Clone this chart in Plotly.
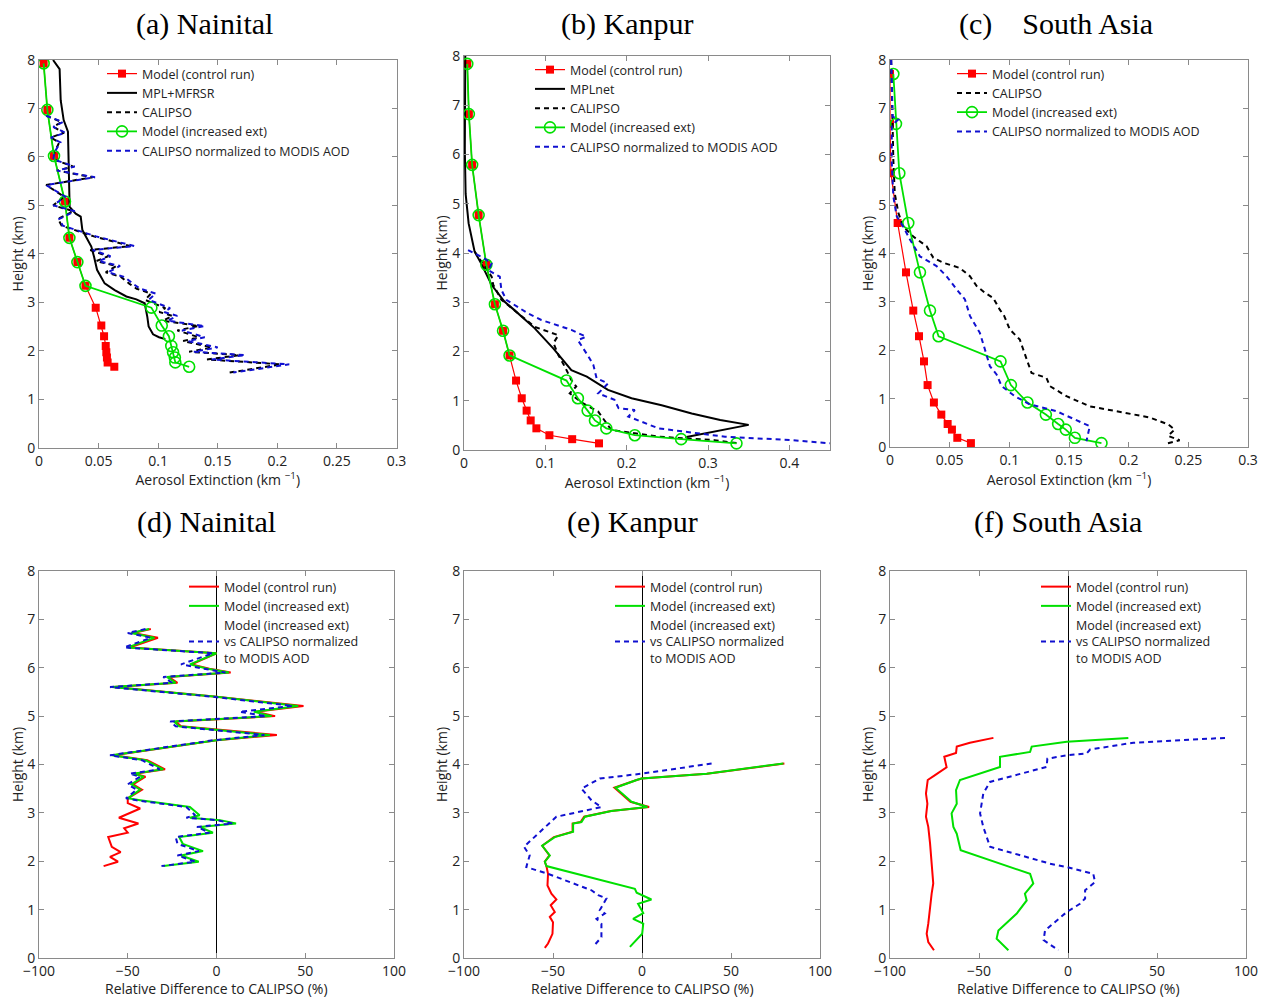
import plotly.graph_objects as go

# The page places the plot 8 px in from the top-left corner (default body margin),
# so the figure is laid out in window pixels minus that offset.
WIN_W, WIN_H = 1272, 999
OFF = 8
W, H = WIN_W - OFF, WIN_H - OFF

# ---------------- Panel (a) Nainital : extinction profiles ----------------
a_height = [7.93, 6.97, 6.02, 5.08, 4.33, 3.83, 3.34, 2.89, 2.52, 2.30, 2.10, 1.97, 1.86, 1.76, 1.67]
a_ctrl = [0.0039, 0.007, 0.0126, 0.0218, 0.0255, 0.0322, 0.039, 0.0476, 0.0523, 0.0546, 0.056, 0.0565, 0.057, 0.0576, 0.0632]
a_inc = [0.0039, 0.007, 0.0126, 0.0218, 0.0255, 0.0322, 0.039, 0.0943, 0.103, 0.109, 0.111, 0.1125, 0.114, 0.1144, 0.126]
a_mpl_h = [8.0, 7.81, 7.17, 6.76, 6.52, 5.94, 4.97, 4.83, 4.77, 4.49, 4.32, 4.15, 3.94, 3.67, 3.39, 3.25, 3.12,
           3.06, 2.98, 2.84, 2.70, 2.50, 2.34, 2.28, 2.24]
a_mpl = [0.0118, 0.0173, 0.0182, 0.0207, 0.0243, 0.0249, 0.0257, 0.0308, 0.035, 0.0364, 0.0403, 0.0439, 0.0462,
         0.0487, 0.0551, 0.0635, 0.0733, 0.0817, 0.0887, 0.0901, 0.0909, 0.092, 0.0957, 0.1007, 0.106]
a_cal_h = [6.85, 6.72, 6.62, 6.50, 6.40, 6.30, 6.10, 5.95, 5.80, 5.72, 5.58, 5.42, 5.18, 5.10, 5.00, 4.88, 4.72,
           4.58, 4.36, 4.16, 4.08, 3.95, 3.85, 3.75, 3.62, 3.52, 3.38, 3.28, 3.18, 3.05, 2.88, 2.80, 2.72, 2.62,
           2.51, 2.42, 2.28, 2.20, 2.07, 1.98, 1.91, 1.82, 1.72, 1.55]
a_cal = [0.006, 0.019, 0.012, 0.021, 0.010, 0.017, 0.013, 0.012, 0.029, 0.015, 0.045, 0.006, 0.021, 0.017, 0.012,
         0.029, 0.016, 0.019, 0.046, 0.077, 0.043, 0.058, 0.048, 0.065, 0.056, 0.069, 0.076, 0.082, 0.094, 0.089,
         0.106, 0.101, 0.112, 0.104, 0.134, 0.116, 0.134, 0.121, 0.145, 0.126, 0.168, 0.141, 0.203, 0.160]
a_caln = [0.006, 0.020, 0.012, 0.022, 0.010, 0.018, 0.013, 0.012, 0.030, 0.015, 0.047, 0.006, 0.022, 0.018, 0.012,
          0.030, 0.017, 0.020, 0.048, 0.080, 0.045, 0.060, 0.050, 0.068, 0.058, 0.072, 0.079, 0.085, 0.098, 0.092,
          0.110, 0.105, 0.116, 0.108, 0.139, 0.120, 0.139, 0.125, 0.150, 0.130, 0.173, 0.145, 0.210, 0.163]

# ---------------- Panel (b) Kanpur ----------------
b_height = [7.84, 6.82, 5.79, 4.77, 3.76, 2.96, 2.42, 1.92, 1.41, 1.05, 0.80, 0.60, 0.44, 0.30, 0.22, 0.135]
b_ctrl = [0.004, 0.006, 0.010, 0.018, 0.0275, 0.038, 0.048, 0.056, 0.064, 0.071, 0.077, 0.082, 0.089, 0.105, 0.133, 0.166]
b_inc = [0.004, 0.006, 0.010, 0.018, 0.0275, 0.038, 0.048, 0.056, 0.126, 0.140, 0.152, 0.161, 0.175, 0.21, 0.267, 0.335]
b_mpl_h = [8.05, 6.1, 5.2, 4.6, 4.03, 3.79, 3.35, 3.01, 2.84, 2.47, 2.06, 1.62, 1.49, 1.22, 1.05, 0.91, 0.74,
           0.61, 0.51, 0.37, 0.26]
b_mpl = [0.0016, 0.001, 0.002, 0.0057, 0.013, 0.021, 0.034, 0.05, 0.062, 0.087, 0.11, 0.132, 0.151, 0.177,
         0.206, 0.243, 0.28, 0.315, 0.35, 0.308, 0.272]
b_cal_h = [4.03, 3.52, 3.35, 3.05, 2.50, 2.33, 2.17, 1.93, 1.69, 1.42, 1.29, 1.15, 0.95, 0.78, 0.41, 0.27, 0.20, 0.14]
b_cal = [0.013, 0.034, 0.036, 0.046, 0.087, 0.116, 0.110, 0.116, 0.124, 0.132, 0.138, 0.130, 0.146, 0.165,
         0.181, 0.239, 0.308, 0.335]
b_caln_h = [4.06, 3.89, 3.79, 3.65, 3.52, 3.25, 3.05, 2.77, 2.64, 2.44, 2.30, 2.23, 1.90, 1.73, 1.46, 1.35, 1.15,
            1.02, 0.85, 0.81, 0.68, 0.44, 0.27, 0.20, 0.135]
b_caln = [0.005, 0.025, 0.034, 0.030, 0.044, 0.046, 0.052, 0.079, 0.095, 0.132, 0.150, 0.140, 0.153, 0.159,
          0.163, 0.177, 0.165, 0.185, 0.190, 0.210, 0.202, 0.239, 0.321, 0.403, 0.45]

# ---------------- Panel (c) South Asia ----------------
c_height = [7.71, 6.68, 5.66, 4.63, 3.61, 2.82, 2.29, 1.77, 1.28, 0.92, 0.67, 0.475, 0.36, 0.19, 0.08]
c_ctrl = [0.0, 0.0, 0.0008, 0.0064, 0.0134, 0.0195, 0.0243, 0.0285, 0.0315, 0.0368, 0.043, 0.0483, 0.0519, 0.0564, 0.0678]
c_inc = [0.0028, 0.005, 0.0078, 0.0153, 0.0251, 0.0335, 0.0407, 0.0926, 0.1013, 0.1152, 0.1306, 0.1409, 0.1473, 0.1549, 0.1772]
c_cal_h = [8.0, 6.8, 5.93, 5.24, 4.84, 4.56, 4.35, 4.15, 3.91, 3.81, 3.70, 3.53, 3.33, 3.19, 3.08, 2.84, 2.71, 2.43,
           2.22, 2.02, 1.74, 1.53, 1.43, 1.26, 1.05, 0.84, 0.74, 0.61, 0.47, 0.36, 0.23, 0.14, 0.07]
c_cal = [0.001, 0.002, 0.0028, 0.004, 0.007, 0.011, 0.0195, 0.0307, 0.0363, 0.0446, 0.0586, 0.067, 0.0725, 0.0795,
         0.0865, 0.092, 0.0957, 0.1004, 0.1088, 0.1116, 0.1158, 0.1186, 0.1311, 0.1339, 0.1479, 0.1674, 0.1897,
         0.2176, 0.233, 0.2385, 0.233, 0.2427, 0.2316]
c_caln_h = [8.0, 6.83, 6.77, 6.65, 5.93, 5.18, 4.77, 4.56, 4.29, 3.94, 3.74, 3.53, 3.26, 3.05, 2.71, 2.36, 2.02, 1.67,
            1.50, 1.26, 1.05, 0.88, 0.74, 0.43, 0.12]
c_caln = [0.001, 0.0022, 0.007, 0.0015, 0.0014, 0.0028, 0.0056, 0.011, 0.0167, 0.0251, 0.039, 0.0474, 0.0558,
          0.0628, 0.067, 0.0753, 0.0795, 0.0837, 0.0893, 0.0935, 0.1046, 0.1172, 0.1395, 0.1674, 0.1646]

# ---------------- Panel (d) Nainital : relative difference ----------------
d_ctrl_h = [6.80, 6.72, 6.62, 6.42, 6.30, 6.07, 5.98, 5.90, 5.81, 5.69, 5.60, 5.40, 5.21, 5.09, 5.00, 4.94, 4.89,
            4.79, 4.61, 4.50, 4.19, 4.09, 3.90, 3.81, 3.75, 3.59, 3.48, 3.30, 3.20, 3.09, 2.90, 2.78, 2.68, 2.59,
            2.50, 2.30, 2.19, 2.09, 1.99, 1.90]
d_ctrl = [-37, -47, -33, -49, 0, -14, -4, 8, -27, -22, -58, 0, 49, 22, 33, 0, -23, -20, 34, 0, -58, -39, -29,
          -46, -40, -47, -42, -50, -50, -43, -55, -44, -52, -50, -61, -59, -54, -60, -55.5, -63.6]
d_inc_h = [6.80, 6.72, 6.62, 6.42, 6.30, 6.07, 5.98, 5.90, 5.81, 5.69, 5.60, 5.40, 5.21, 5.09, 5.00, 4.94, 4.89,
           4.79, 4.61, 4.50, 4.19, 4.09, 3.90, 3.81, 3.75, 3.59, 3.48, 3.30, 3.26, 3.12, 2.95, 2.90, 2.85, 2.78,
           2.71, 2.59, 2.50, 2.36, 2.21, 2.12, 1.99, 1.90]
d_inc = [-38, -48, -35, -50, 0, -15, -5, 7, -28, -23, -59, 0, 46, 21, 31, 0, -24, -21, 30, 0, -59, -40, -30,
         -47, -41, -48, -43, -50, -43, -15, -9.5, -15, 2, 11, -9.5, -2, -21, -19, -7.6, -20, -10, -30]
d_caln_h = [6.80, 6.72, 6.62, 6.42, 6.30, 6.07, 5.98, 5.90, 5.81, 5.69, 5.60, 5.40, 5.21, 5.09, 5.00, 4.94, 4.89,
            4.79, 4.61, 4.50, 4.19, 4.09, 3.90, 3.81, 3.75, 3.59, 3.48, 3.30, 3.26, 3.12, 2.95, 2.90, 2.85, 2.78,
            2.71, 2.59, 2.50, 2.36, 2.21, 2.12, 1.99, 1.90]
d_caln = [-40, -50, -37, -52, -2, -20, -7, 5, -30, -25, -60, -2, 43, 13, 28, -2, -26, -23, 27, -2, -60, -42,
          -32, -49, -43, -50, -45, -51, -45, -17, -12, -17, 0, 9, -11, -4, -23, -22, -10, -22, -12, -31]

# ---------------- Panel (e) Kanpur : relative difference ----------------
e_ctrl_h = [4.02, 3.81, 3.71, 3.68, 3.52, 3.23, 3.12, 3.04, 2.92, 2.81, 2.78, 2.61, 2.50, 2.32, 2.12, 1.99, 1.90,
            1.74, 1.50, 1.33, 1.21, 1.09, 0.95, 0.85, 0.74, 0.50, 0.30, 0.21]
e_ctrl = [80, 36.5, -0.3, -3, -15.5, -6.5, 4, -17.5, -32.5, -34.5, -39, -39, -49.5, -56, -52, -54.6, -53.7,
          -52.8, -53.1, -50.9, -48.1, -51.3, -49, -51.8, -50, -50.3, -52.8, -54.6]
e_inc_h = [4.02, 3.81, 3.71, 3.68, 3.52, 3.23, 3.12, 3.04, 2.92, 2.81, 2.78, 2.61, 2.50, 2.32, 2.12, 1.99, 1.90,
           1.43, 1.35, 1.21, 1.12, 0.93, 0.81, 0.71, 0.50, 0.33, 0.23]
e_inc = [79.4, 36.3, -0.3, -3, -14.9, -5.9, 3.1, -17.2, -32.1, -34, -38.7, -38.7, -49, -56.1, -51.8, -54.6,
         -53.7, -4, -3, 5.3, -2.2, 0.7, -5, 0.7, 0.1, -4, -6.8]
e_caln_h = [4.02, 3.81, 3.71, 3.50, 3.26, 3.12, 2.92, 2.43, 2.30, 2.12, 1.88, 1.74, 1.40, 1.30, 1.23, 0.99, 0.92,
            0.81, 0.71, 0.43, 0.23]
e_caln = [39.1, -0.3, -23.7, -34, -28.4, -22.8, -48.1, -62.1, -66.3, -63.1, -65, -52.8, -28.4, -24.6, -20,
          -23.7, -20.9, -25.6, -22.8, -22.8, -27.5]

# ---------------- Panel (f) South Asia : relative difference ----------------
f_ctrl_h = [4.55, 4.45, 4.37, 4.24, 4.16, 3.94, 3.78, 3.68, 3.40, 3.19, 2.92, 2.71, 2.37, 1.88, 1.54, 1.33, 0.99,
            0.71, 0.50, 0.33, 0.16]
f_ctrl = [-41.9, -55.1, -62.5, -62.9, -69.5, -68.2, -74.7, -78.8, -79.8, -79, -79.8, -78.5, -77.5, -76.6, -75.7,
          -76.6, -77.5, -78.5, -79.4, -78.5, -75.3]
f_inc_h = [4.55, 4.47, 4.37, 4.26, 4.16, 3.95, 3.68, 3.47, 3.19, 2.99, 2.71, 2.57, 2.23, 1.74, 1.54, 1.33, 1.19,
           0.92, 0.57, 0.40, 0.16]
f_inc = [33.9, -0.7, -20.4, -21.3, -38.2, -38.2, -60.7, -62.9, -62.5, -65.4, -64.4, -62.5, -60.3, -21.3, -19.5,
         -24.2, -23.2, -28.8, -39.1, -40.1, -33.5]
f_caln_h = [4.55, 4.45, 4.31, 4.23, 4.19, 4.12, 3.95, 3.64, 3.40, 2.99, 2.71, 2.50, 2.30, 1.95, 1.88, 1.74, 1.57,
            1.40, 1.23, 1.12, 0.95, 0.57, 0.37, 0.16]
f_caln = [88.2, 36.7, 12.4, 10.5, -0.7, -11.6, -12, -43.8, -47.6, -49.4, -47.6, -45.7, -43.8, -10.1, -0.7, 14.2,
          15.2, 9.6, 9.6, 6.7, -0.7, -12.9, -13.7, -5.4]

# ---------------- Text ----------------
titles = ["(a) Nainital", "(b) Kanpur", "(c)\u00a0\u00a0\u00a0\u00a0South Asia",
          "(d) Nainital", "(e) Kanpur", "(f) South Asia"]
y_title = "Height (km)"
x_title_top = "Aerosol Extinction (km <sup>\u22121</sup>)"
x_title_bot = "Relative Difference to CALIPSO (%)"
leg_ctrl = "Model (control run)"
leg_mpl_a = "MPL+MFRSR"
leg_mpl_b = "MPLnet"
leg_cal = "CALIPSO"
leg_inc = "Model (increased ext)"
leg_caln = "CALIPSO normalized to MODIS AOD"
leg_diff_n = "Model (increased ext)<br>vs CALIPSO normalized<br>to MODIS AOD"

# ---------------- Styling ----------------
RED = "#ff0000"
GREEN = "#00e000"
BLUE = "#1010d0"
BLACK = "#000000"
GRAY = "#8a8a8a"
SANS = "Open Sans, Liberation Sans, Arial, sans-serif"
SERIF = "Liberation Serif, Times New Roman, serif"

# panel boxes in window pixels: left, right, top, bottom
boxes = [
    (39, 396.5, 60, 447.7),
    (464, 830, 56, 450),
    (890, 1248, 60, 447),
    (39, 394, 571, 958),
    (464, 820, 571, 958),
    (890, 1246, 571, 958),
]
x_ranges = [[0, 0.3], [0, 0.45], [0, 0.3], [-100, 100], [-100, 100], [-100, 100]]
x_dticks = [0.05, 0.1, 0.05, 50, 50, 50]
title_centers = [(204, 24), (627, 24), (1056, 24), (206, 522), (632, 522), (1058, 522)]
legend_pos = [(102, 59), (530, 55), (952, 59), (184, 572), (610, 572), (1036, 572)]
bottom_xtitle_y = 988


def fx(px):
    return (px - OFF) / W


def fy(py):
    return 1 - (py - OFF) / H


fig = go.Figure()


def ax(i, kind):
    return kind if i == 1 else f"{kind}{i}"


def leg(i):
    return "legend" if i == 1 else f"legend{i}"


def add(i, x, y, name, color, width, dash="solid", marker=None):
    kw = dict(x=x, y=y, mode="lines", name=name, legend=leg(i),
              xaxis=ax(i, "x"), yaxis=ax(i, "y"),
              line=dict(color=color, width=width, dash=dash), hoverinfo="skip")
    if marker is not None:
        kw["mode"] = "lines+markers"
        kw["marker"] = marker
    fig.add_trace(go.Scatter(**kw))


sq = dict(symbol="square", size=8, color=RED, line=dict(width=0))
circ = dict(symbol="circle-open", size=11, color=GREEN, line=dict(width=1.6, color=GREEN))
DASH = "5px,4px"

# (a)
add(1, a_ctrl, a_height, leg_ctrl, RED, 1.2, marker=sq)
add(1, a_mpl, a_mpl_h, leg_mpl_a, BLACK, 2)
add(1, a_cal, a_cal_h, leg_cal, BLACK, 2, DASH)
add(1, a_inc, a_height, leg_inc, GREEN, 1.8, marker=circ)
add(1, a_caln, a_cal_h, leg_caln, BLUE, 2, DASH)
# (b)
add(2, b_ctrl, b_height, leg_ctrl, RED, 1.2, marker=sq)
add(2, b_mpl, b_mpl_h, leg_mpl_b, BLACK, 2)
add(2, b_cal, b_cal_h, leg_cal, BLACK, 2, DASH)
add(2, b_inc, b_height, leg_inc, GREEN, 1.8, marker=circ)
add(2, b_caln, b_caln_h, leg_caln, BLUE, 2, DASH)
# (c)
add(3, c_ctrl, c_height, leg_ctrl, RED, 1.2, marker=sq)
add(3, c_cal, c_cal_h, leg_cal, BLACK, 2, DASH)
add(3, c_inc, c_height, leg_inc, GREEN, 1.8, marker=circ)
add(3, c_caln, c_caln_h, leg_caln, BLUE, 2, DASH)
# (d)
add(4, d_ctrl, d_ctrl_h, leg_ctrl, RED, 2)
add(4, d_inc, d_inc_h, leg_inc, GREEN, 2)
add(4, d_caln, d_caln_h, leg_diff_n, BLUE, 2, DASH)
# (e)
add(5, e_ctrl, e_ctrl_h, leg_ctrl, RED, 2)
add(5, e_inc, e_inc_h, leg_inc, GREEN, 2)
add(5, e_caln, e_caln_h, leg_diff_n, BLUE, 2, DASH)
# (f)
add(6, f_ctrl, f_ctrl_h, leg_ctrl, RED, 2)
add(6, f_inc, f_inc_h, leg_inc, GREEN, 2)
add(6, f_caln, f_caln_h, leg_diff_n, BLUE, 2, DASH)

layout = dict(
    width=W, height=H, autosize=False,
    margin=dict(l=0, r=0, t=0, b=0, pad=0),
    paper_bgcolor="white", plot_bgcolor="white",
    font=dict(family=SANS, size=13, color="#222222"),
    annotations=[],
    template="none",
)

for i in range(1, 7):
    l, r, t, b = boxes[i - 1]
    bottom_row = i >= 4
    layout[ax(i, "xaxis")] = dict(
        domain=[fx(l), fx(r)], anchor=ax(i, "y"), range=x_ranges[i - 1],
        tick0=x_ranges[i - 1][0], dtick=x_dticks[i - 1], automargin=False,
        ticks="inside", ticklen=5, tickcolor=GRAY, showline=True, linecolor=GRAY, linewidth=1,
        mirror="allticks", showgrid=False,
        zeroline=bottom_row, zerolinecolor=BLACK, zerolinewidth=1,
        tickfont=dict(size=14, color="#222222"),
        title=dict(text="" if bottom_row else x_title_top, font=dict(size=14), standoff=3),
    )
    layout[ax(i, "yaxis")] = dict(
        domain=[fy(b), fy(t)], anchor=ax(i, "x"), range=[0, 8], dtick=1, automargin=False,
        ticks="inside", ticklen=5, tickcolor=GRAY, showline=True, linecolor=GRAY, linewidth=1,
        mirror="allticks", showgrid=False, zeroline=False,
        tickfont=dict(size=14, color="#222222"),
        title=dict(text=y_title, font=dict(size=14), standoff=1),
    )
    lx, ly = legend_pos[i - 1]
    layout[leg(i)] = dict(
        x=fx(lx), y=fy(ly), xanchor="left", yanchor="top",
        bgcolor="rgba(0,0,0,0)", borderwidth=0,
        font=dict(family=SANS, size=12.5, color="#222222"),
        tracegroupgap=0, itemwidth=30,
    )
    cx, cy = title_centers[i - 1]
    layout["annotations"].append(dict(
        text=titles[i - 1], x=fx(cx), y=fy(cy), xref="paper", yref="paper",
        xanchor="center", yanchor="middle", showarrow=False, borderpad=0,
        font=dict(family=SERIF, size=30, color="#000000"),
    ))
    if bottom_row:
        layout["annotations"].append(dict(
            text=x_title_bot, x=fx((l + r) / 2), y=fy(bottom_xtitle_y), xref="paper", yref="paper",
            xanchor="center", yanchor="middle", showarrow=False, borderpad=0,
            font=dict(family=SANS, size=14, color="#222222"),
        ))

fig.update_layout(**layout)
fig.write_html("out.html")
